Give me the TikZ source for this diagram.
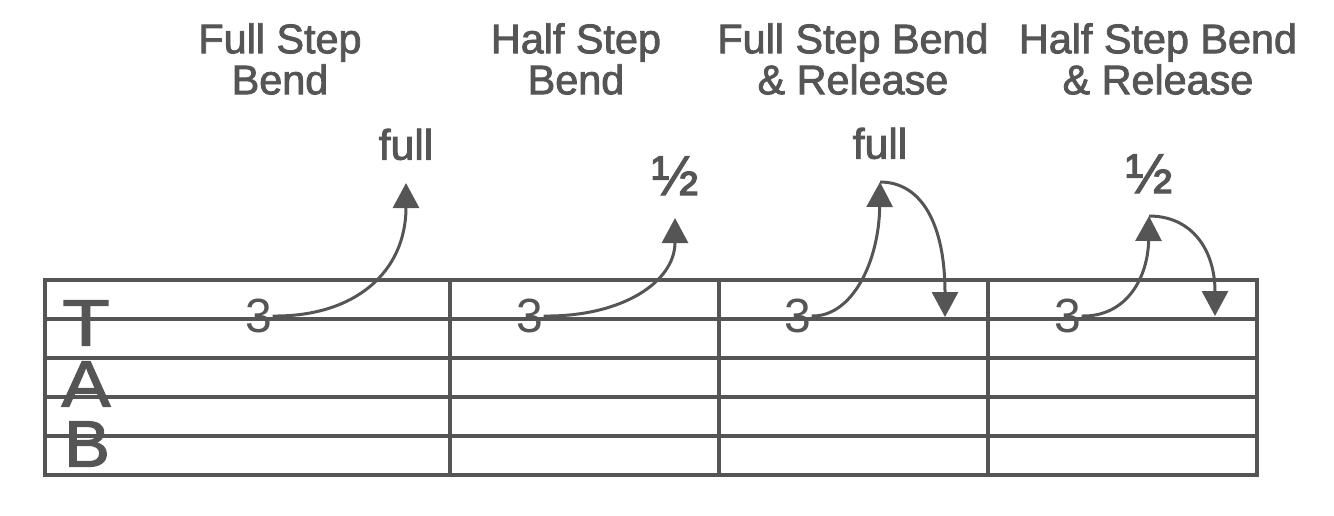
\documentclass[tikz,border=0pt]{standalone}
\usepackage{fontspec}
\setmainfont{Liberation Sans}
\newfontfamily\heavyfont[FakeBold=2]{Liberation Sans}
\usepackage{graphicx}
\usepackage{tikz}
\usetikzlibrary{arrows.meta}
\usetikzlibrary{positioning}
\definecolor{clrTab}{RGB}{85,85,85}
\tikzstyle{title_style}=[text=clrTab, align=center, anchor=north, inner sep=0pt,
font=\heavyfont\fontsize{31pt}{30.75pt}\selectfont]
\tikzstyle{bend_label}=[text=clrTab, inner sep=0pt, font=\heavyfont\fontsize{32pt}{32pt}\selectfont]
\tikzstyle{fret}=[text=clrTab, inner sep=0pt, font=\fontsize{36pt}{36pt}\selectfont]
\tikzstyle{tab_letter}=[text=clrTab, inner sep=0pt, font=\heavyfont\fontsize{49pt}{49pt}\selectfont]
\tikzstyle{staffline}=[clrTab, line width=3pt]
\tikzstyle{bendarrow}=[clrTab, line width=2.25pt, -{Triangle[width=19.5pt,length=18.75pt]}]

\begin{document}
\begin{tikzpicture}[x=0.75pt, y=-0.75pt]
		\useasboundingbox (0,0) rectangle (1334,515);

		% staff
		\foreach \i in {0,...,5}
			\draw[staffline] (45,280+39*\i) -- (1257,280+39*\i);
		\foreach \x in {45,450,719,988,1257}
			\draw[staffline, line cap=rect] (\x,280) -- (\x,475);

		\node[tab_letter] (T) at (86,323) {\scalebox{1.18}[1]{T}};
		\node[tab_letter] (A) at (86,384) {\scalebox{1.12}[1]{A}};
		\node[tab_letter] (B) at (87,444) {\scalebox{1.05}[1]{B}};

		% titles
		\node[title_style] (HA) at (280,23) {Full Step\\Bend};
		\node[title_style] (HB) at (576,23) {Half Step\\Bend};
		\node[title_style] (HC) at (853,23) {Full Step Bend\\\& Release};
		\node[title_style] (HD) at (1158,23) {Half Step Bend\\\& Release};

		% fret numbers
		\node[fret] (NA) at (259,316) {3};
		\node[fret] (NB) at (530,316) {3};
		\node[fret] (NC) at (798,316) {3};
		\node[fret] (ND) at (1068,316) {3};

		% arrow tips
		\coordinate (TA) at (406,183);
		\coordinate (TB) at (675,218);
		\coordinate (TC) at (880,182);
		\coordinate (TD) at (1149,216);
		\coordinate (RC) at (945,317);
		\coordinate (RD) at (1215,316);

		\node[bend_label, above=17pt of TA] (LA) {full};
		\node[bend_label, above=17pt of TB, font=\heavyfont\fontsize{42pt}{42pt}\selectfont] (LB) {½};
		\node[bend_label, above=17pt of TC] (LC) {full};
		\node[bend_label, above=17pt of TD, font=\heavyfont\fontsize{42pt}{42pt}\selectfont] (LD) {½};

		% bends
		\draw[bendarrow] (NA.east) .. controls (355,317) and (406,272) .. (TA);
		\draw[bendarrow] (NB.east) .. controls (622,317) and (675,282) .. (TB);
		\draw[bendarrow] (NC.east) .. controls (852,317) and (879,262) .. (TC);
		\draw[bendarrow] (TC) .. controls (922,182) and (945,225) .. (RC);
		\draw[bendarrow] (ND.east) .. controls (1127,317) and (1148,277) .. (TD);
		\draw[bendarrow] (TD) .. controls (1192,216) and (1215,250) .. (RD);

	\end{tikzpicture}
\end{document}
